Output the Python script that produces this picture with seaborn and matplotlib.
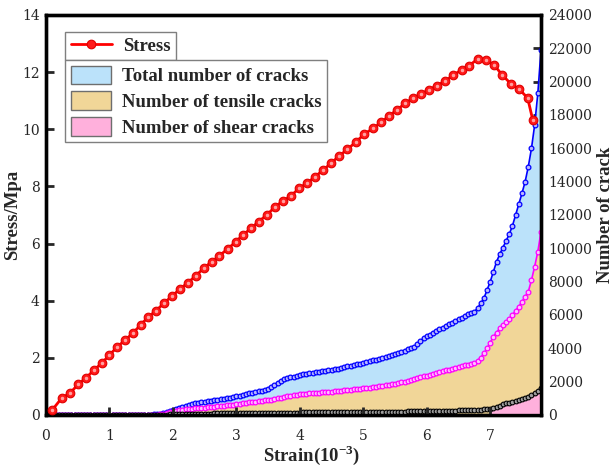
import numpy as np
import matplotlib
matplotlib.use("Agg")
import matplotlib.pyplot as plt
from matplotlib.lines import Line2D
from matplotlib.patches import Patch
from matplotlib.font_manager import FontProperties
import seaborn as sns

# ---- stress-strain curve ----
strain_stress = [0.10, 0.25, 0.38, 0.51, 0.63, 0.76, 0.88, 1.00, 1.12, 1.25,
                 1.37, 1.49, 1.61, 1.73, 1.86, 1.99, 2.11, 2.23, 2.36, 2.49,
                 2.61, 2.73, 2.86, 2.99, 3.10, 3.23, 3.35, 3.48, 3.61, 3.74,
                 3.86, 3.99, 4.12, 4.24, 4.37, 4.49, 4.62, 4.75, 4.88, 5.01,
                 5.15, 5.28, 5.40, 5.53, 5.66, 5.78, 5.91, 6.03, 6.16, 6.29,
                 6.42, 6.55, 6.67, 6.80, 6.93, 7.06, 7.19, 7.33, 7.46, 7.59,
                 7.67]
stress = [0.18, 0.60, 0.77, 1.08, 1.30, 1.58, 1.82, 2.10, 2.38, 2.63,
          2.87, 3.15, 3.43, 3.64, 3.92, 4.17, 4.41, 4.62, 4.87, 5.15,
          5.36, 5.57, 5.81, 6.06, 6.30, 6.53, 6.77, 7.00, 7.29, 7.50,
          7.67, 7.94, 8.13, 8.34, 8.58, 8.81, 9.07, 9.30, 9.55, 9.82,
          10.03, 10.24, 10.46, 10.68, 10.91, 11.09, 11.24, 11.38, 11.53, 11.69,
          11.90, 12.08, 12.23, 12.46, 12.44, 12.25, 11.90, 11.58, 11.40, 11.09,
          10.33]

# ---- crack counts, sampled every 0.05 strain from 0 to 7.80 ----
strain_cracks = np.round(np.arange(0, 7.80 + 1e-6, 0.05), 2)

total_cracks = [0] * 33 + [
    20, 40, 60, 90, 130, 180, 240, 300,
    360, 430, 500, 560, 620, 670, 710, 740, 760, 790,
    820, 860, 890, 920, 950, 980, 1010, 1040, 1070, 1120,
    1170, 1220, 1260, 1300, 1340, 1380, 1420, 1460, 1510, 1560,
    1660, 1800, 1920, 2060, 2150, 2220, 2260, 2300, 2360, 2420,
    2450, 2480, 2510, 2540, 2560, 2590, 2620, 2650, 2680, 2710,
    2750, 2790, 2830, 2870, 2920, 2960, 3000, 3050, 3090, 3130,
    3180, 3230, 3280, 3330, 3390, 3440, 3500, 3560, 3620, 3680,
    3740, 3800, 3870, 3940, 4020, 4100, 4250, 4450, 4600, 4720,
    4830, 4950, 5050, 5150, 5250, 5350, 5450, 5550, 5650, 5750,
    5850, 5950, 6050, 6120, 6200, 6400, 6700, 7000, 7500, 8000,
    8600, 9200, 9650, 10050, 10450, 10850, 11350, 12000, 12650, 13300,
    14000, 14900, 16000, 17400, 19300, 21900]

tensile_cracks = [0] * 35 + [
    20, 40, 70, 110, 160, 210,
    250, 290, 320, 340, 360, 380, 400, 420, 440, 450,
    470, 490, 510, 530, 550, 570, 590, 610, 630, 650,
    670, 700, 730, 760, 780, 800, 820, 850, 880, 900,
    930, 960, 1000, 1040, 1090, 1130, 1160, 1190, 1220, 1240,
    1260, 1280, 1300, 1310, 1330, 1340, 1360, 1370, 1390, 1400,
    1420, 1440, 1460, 1480, 1500, 1520, 1540, 1560, 1580, 1600,
    1630, 1650, 1680, 1700, 1730, 1760, 1790, 1820, 1850, 1880,
    1920, 1960, 2000, 2050, 2100, 2150, 2200, 2260, 2320, 2370,
    2420, 2480, 2530, 2580, 2630, 2680, 2730, 2780, 2830, 2880,
    2930, 2980, 3030, 3080, 3140, 3250, 3450, 3700, 4000, 4350,
    4700, 4950, 5200, 5400, 5580, 5780, 6000, 6250, 6500, 6800,
    7100, 7400, 8100, 8900, 9800, 11000]

shear_cracks = [0] * 36 + [
    10, 20, 30, 40, 50,
    54, 58, 62, 65, 68, 71, 74, 77, 80, 83,
    86, 89, 92, 94, 96, 98, 100, 102, 104, 106,
    108, 111, 114, 117, 120, 122, 124, 126, 128, 130,
    132, 134, 136, 138, 140, 142, 144, 146, 148, 150,
    152, 153, 155, 156, 158, 159, 161, 162, 164, 165,
    167, 168, 170, 171, 173, 174, 176, 177, 179, 180,
    182, 184, 186, 188, 190, 192, 194, 196, 198, 200,
    203, 206, 209, 212, 215, 218, 221, 224, 227, 230,
    234, 238, 242, 246, 250, 255, 260, 265, 270, 276,
    282, 288, 294, 300, 308, 316, 326, 340, 360, 390,
    430, 500, 570, 640, 700, 750, 800, 850, 910, 970,
    1030, 1100, 1200, 1330, 1470, 1620]

legend_labels = ["Total number of cracks", "Number of tensile cracks",
                 "Number of shear cracks"]

# ---- style ----
sns.set_style("ticks")
plt.rcParams["font.family"] = ["DejaVu Serif"]
plt.rcParams["mathtext.fontset"] = "custom"
plt.rcParams["mathtext.rm"] = "Liberation Serif"
plt.rcParams["mathtext.bf"] = "Liberation Serif:bold"

bold = FontProperties(family="Liberation Serif", weight="bold", size=13.5)

c_total_fill = "#BBE2FA"
c_tensile_fill = "#F1D698"
c_shear_fill = "#FFB0DC"

fig = plt.figure(figsize=(6.15, 4.67), dpi=100)
ax = fig.add_axes([46 / 615, 1 - 415 / 467, 495 / 615, 400 / 467])
ax2 = ax.twinx()

x = np.asarray(strain_cracks)
tot = np.asarray(total_cracks)
ten = np.asarray(tensile_cracks)
she = np.asarray(shear_cracks)

# filled areas under the crack curves
ax2.fill_between(x, 0, tot, color=c_total_fill, lw=0, zorder=1)
ax2.fill_between(x, 0, ten, color=c_tensile_fill, lw=0, zorder=2)
ax2.fill_between(x, 0, she, where=x >= 6.99, color=c_shear_fill, lw=0, zorder=3)

# crack curves
sns.lineplot(x=x, y=tot, ax=ax2, color="#0000FF", lw=1.2, marker="o", ms=3.4,
             mfc="#B8B8FF", mec="#0000FF", mew=0.9, sort=False, errorbar=None, zorder=4)
sns.lineplot(x=x, y=ten, ax=ax2, color="#FF00FF", lw=1.2, marker="o", ms=3.4,
             mfc="#FFC0FF", mec="#FF00FF", mew=0.9, sort=False, errorbar=None, zorder=5)
sns.lineplot(x=x, y=she, ax=ax2, color="#000000", lw=1.0, marker="o", ms=3.4,
             mfc="#A0A0A0", mec="#000000", mew=0.8, sort=False, errorbar=None, zorder=6)

# stress curve on top
ax.set_zorder(ax2.get_zorder() + 1)
ax.patch.set_visible(False)
sns.lineplot(x=strain_stress, y=stress, ax=ax, color="#FF0000", lw=2.0, marker="o",
             ms=6.2, mfc="#FF1A1A", mec="#E00000", mew=0.8, sort=False,
             errorbar=None, zorder=10)
ax.plot(strain_stress, stress, ls="none", marker="o", ms=1.5, color="#FFA0A0",
        zorder=11)

# axes limits and ticks
ax.set_xlim(0, 7.80)
ax.set_ylim(0, 14)
ax2.set_ylim(0, 24000)
ax.set_xticks(range(0, 8))
ax.set_yticks(range(0, 15, 2))
ax2.set_yticks(range(0, 24001, 2000))

for a in (ax, ax2):
    for s in a.spines.values():
        s.set_linewidth(2.4)
        s.set_color("black")

ax.tick_params(axis="x", direction="in", length=5.5, width=2.0, labelsize=10,
               pad=10, top=False, bottom=True)
ax.tick_params(axis="y", direction="in", length=5.5, width=2.0, labelsize=10,
               pad=4.5, left=True, right=False)
ax2.tick_params(axis="y", direction="in", length=5.5, width=2.0, labelsize=10,
                pad=5, right=True, left=False)
ax2.tick_params(axis="x", bottom=False, top=False, labelbottom=False)

ax.set_ylabel("Stress/Mpa", fontproperties=bold, labelpad=1)
ax2.set_ylabel("Number of crack", fontproperties=bold, labelpad=4, rotation=90)
ax.set_xlabel("Strain(10$^{\\mathbf{-3}}$)", fontproperties=bold)
ax.xaxis.set_label_coords(0.537, -0.071)

# legends
h_stress = Line2D([], [], color="#FF0000", lw=2.0, marker="o", ms=6.2,
                  mfc="#FF1A1A", mec="#E00000", mew=0.8)
leg1 = ax.legend([h_stress], ["Stress"], loc="upper left",
                 bbox_to_anchor=((65 - 46) / 495, (415 - 32) / 400),
                 borderaxespad=0, prop=bold, handlelength=2.2, handletextpad=0.6,
                 borderpad=0.3, frameon=True, fancybox=False, edgecolor="#7F7F7F",
                 framealpha=1)
leg1.get_frame().set_linewidth(1.0)
ax.add_artist(leg1)

patches = [Patch(facecolor=c, edgecolor="#6E6E6E", lw=1.0)
           for c in (c_total_fill, c_tensile_fill, c_shear_fill)]
leg2 = ax.legend(patches, legend_labels, loc="upper left",
                 bbox_to_anchor=((65 - 46) / 495, (415 - 60) / 400),
                 borderaxespad=0, prop=bold, handlelength=2.15, handleheight=1.15,
                 handletextpad=0.6, labelspacing=0.32, borderpad=0.3,
                 frameon=True, fancybox=False, edgecolor="#7F7F7F", framealpha=1)
leg2.get_frame().set_linewidth(1.0)

fig.savefig("out.png", dpi=100)
